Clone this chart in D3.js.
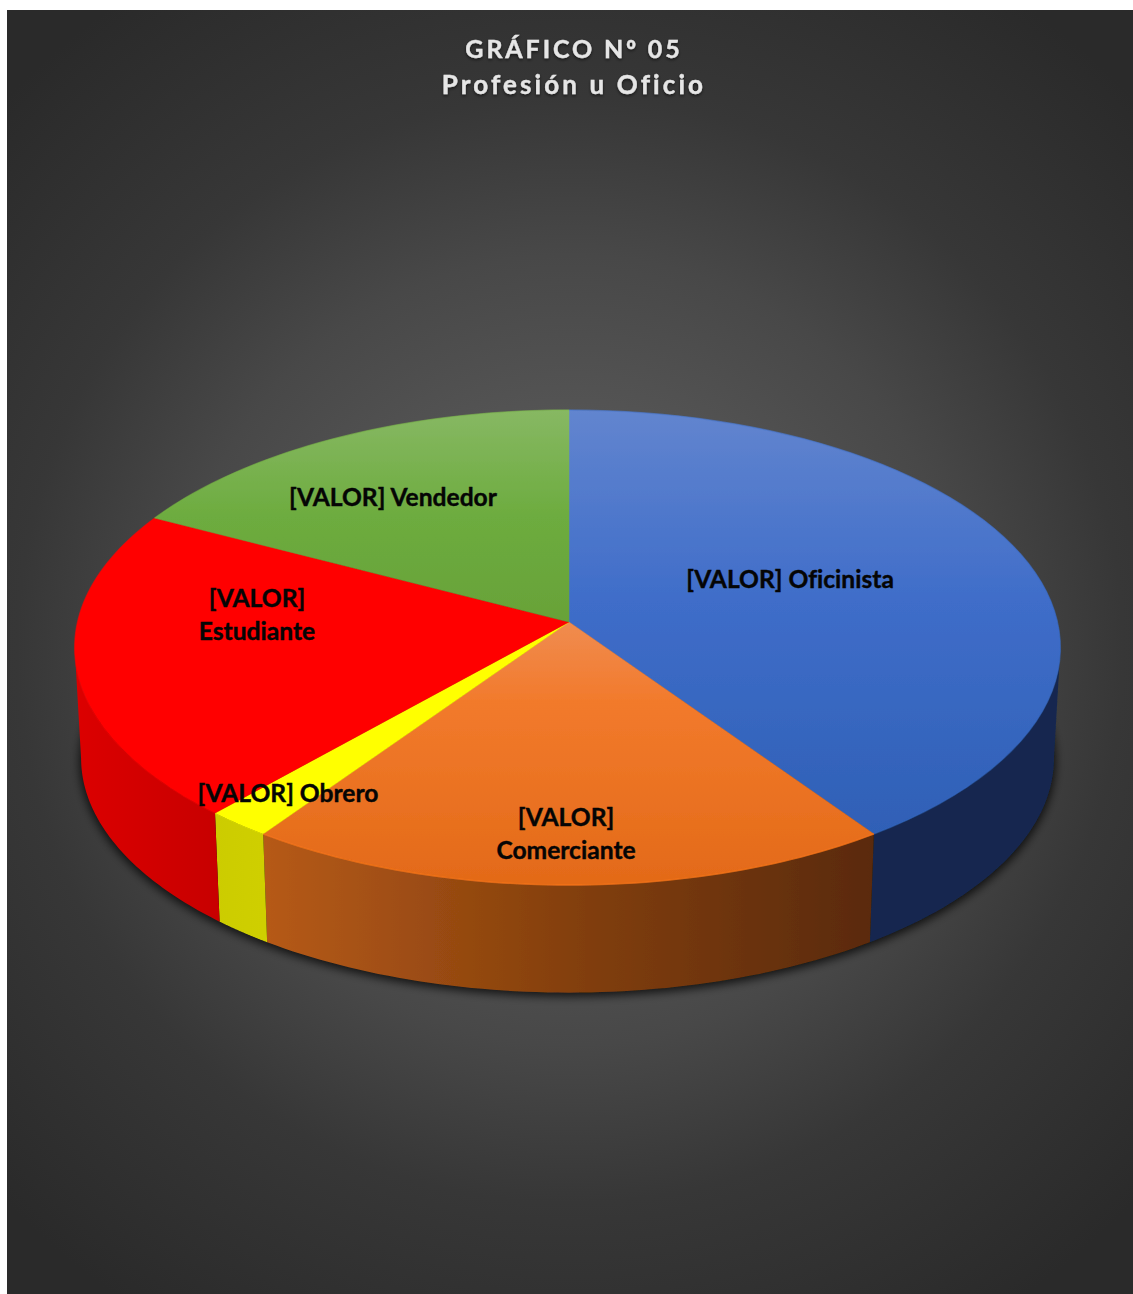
<!DOCTYPE html>
<html lang="es">
<head>
<meta charset="utf-8">
<title>Profesión u Oficio</title>
<script src="https://cdn.jsdelivr.net/npm/d3@7/dist/d3.min.js"></script>
<style>
  html, body { margin: 0; padding: 0; background: #fff; }
  svg { display: block; }
  .title { font-family: Lato, "Open Sans", sans-serif; font-weight: 700; font-size: 26px; letter-spacing: 3.1px; fill: #e6e6e6; stroke: #e6e6e6; stroke-width: 0.35px; text-anchor: middle; font-variant-ligatures: none; filter: url(#titleShadow); }
  .title.first { font-size: 25px; letter-spacing: 2.9px; }
  .label { font-family: Lato, "Open Sans", sans-serif; font-weight: 700; font-size: 24.6px; fill: #050505; stroke: #050505; stroke-width: 0.4px; text-anchor: middle; font-variant-ligatures: none; }
</style>
</head>
<body>
<script>
// Survey counts by occupation
const categories = ["Oficinista", "Comerciante", "Obrero", "Estudiante", "Vendedor"];
const counts = [21, 10, 1, 11, 9];
const titleLines = [["GRÁFICO N", "º", " 05"], ["Profesión u Oficio"]];
const labelLines = [
  ["[VALOR] Oficinista"],
  ["[VALOR]", "Comerciante"],
  ["[VALOR] Obrero"],
  ["[VALOR]", "Estudiante"],
  ["[VALOR] Vendedor"]
];

const W = 1133, H = 1294;
const frame = { left: 7, top: 10 };

// Slice appearance
const topStops = [
  [[0, "#6285cf"], [0.45, "#3f6dc9"], [1, "#2f60b6"]],
  [[0, "#f08c50"], [0.3, "#f27a2c"], [1, "#e36a18"]],
  [[0, "#ffff00"], [1, "#ffff00"]],
  [[0, "#ff0000"], [1, "#ff0000"]],
  [[0, "#87b863"], [0.5, "#6dac3f"], [1, "#68a238"]]
];
const wallStops = [
  [[0, "#142850"], [1, "#142850"]],
  [[0, "#b65a18"], [0.55, "#7f3d0c"], [1, "#5a2a07"]],
  [[0, "#cccc00"], [1, "#cfcf00"]],
  [[0, "#dc0000"], [1, "#c80000"]],
  [[0, "#4a7a2c"], [1, "#4a7a2c"]]
];

// Perspective of the tilted disc: centre, radii and foreshortening
const apex = { x: 569, y: 622 };
const sideDrift = 1.5;
const radiusX = 490, radiusY = 234.8, tilt = 0.1074;
const baseScale = 0.987, baseDrop = 111;

function project(angle, scale = 1, drop = 0) {
  const u = Math.sin(angle), v = Math.cos(angle);
  const w = 1 + tilt * v;
  return [apex.x - sideDrift * u * u + scale * radiusX * u / w, apex.y + drop - scale * radiusY * v / w];
}

const arcs = d3.pie().sort(null).startAngle(0).endAngle(2 * Math.PI)(counts);
const line = d3.line();
const sweep = (from, to) => d3.range(0, 61).map(i => from + (to - from) * i / 60);

// The wall is only seen between the two points where the rim turns back
const frontFrom = Math.acos(-tilt);
const frontTo = 2 * Math.PI - frontFrom;

const svg = d3.select("body").append("svg").attr("width", W).attr("height", H);
const defs = svg.append("defs");

const bg = defs.append("radialGradient").attr("id", "bg")
  .attr("gradientUnits", "userSpaceOnUse").attr("cx", 570).attr("cy", 650).attr("r", 790);
[[0, "#666666"], [0.35, "#515151"], [0.5, "#484848"], [0.7, "#373737"], [1, "#2a2a2a"]].forEach(([o, c]) =>
  bg.append("stop").attr("offset", o).attr("stop-color", c));

const shadow = defs.append("filter").attr("id", "discShadow")
  .attr("x", "-5%").attr("y", "-5%").attr("width", "110%").attr("height", "110%");
shadow.append("feGaussianBlur").attr("stdDeviation", 5);

const titleGlow = defs.append("filter").attr("id", "titleShadow")
  .attr("x", "-5%").attr("y", "-20%").attr("width", "110%").attr("height", "150%");
titleGlow.append("feDropShadow").attr("dx", 0).attr("dy", 1.5).attr("stdDeviation", 1.5)
  .attr("flood-color", "#000").attr("flood-opacity", 0.6);

const soft = defs.append("filter").attr("id", "soft");
soft.append("feGaussianBlur").attr("stdDeviation", 0.35);

svg.append("rect")
  .attr("x", frame.left).attr("y", frame.top)
  .attr("width", W - frame.left).attr("height", H - frame.top)
  .attr("fill", "url(#bg)");

function gradient(id, stops, x1, y1, x2, y2) {
  const g = defs.append("linearGradient").attr("id", id).attr("gradientUnits", "userSpaceOnUse")
    .attr("x1", x1).attr("y1", y1).attr("x2", x2).attr("y2", y2);
  stops.forEach(([o, c]) => g.append("stop").attr("offset", o).attr("stop-color", c));
}

const chart = svg.append("g").attr("filter", "url(#soft)");

// Soft shadow under the base
const fullCircle = d3.range(0, 181).map(i => i * 2 * Math.PI / 180);
chart.append("path")
  .attr("d", line(fullCircle.map(t => project(t, baseScale + 0.003, baseDrop + 3))) + "Z")
  .attr("fill", "#000").attr("opacity", 0.75).attr("filter", "url(#discShadow)");

// Outer walls, slice by slice
arcs.forEach((a, i) => {
  const from = Math.max(a.startAngle, frontFrom);
  const to = Math.min(a.endAngle, frontTo);
  if (to <= from) return;
  const ts = sweep(from, to);
  const topEdge = ts.map(t => project(t));
  const baseEdge = ts.map(t => project(t, baseScale, baseDrop)).reverse();
  const xs = topEdge.map(p => p[0]);
  gradient(`wall${i}`, wallStops[i], d3.min(xs), 0, d3.max(xs), 0);
  chart.append("path")
    .attr("d", line(topEdge.concat(baseEdge)) + "Z")
    .attr("fill", `url(#wall${i})`);
});

// Top face
arcs.forEach((a, i) => {
  const pts = sweep(a.startAngle, a.endAngle).map(t => project(t));
  pts.push([apex.x, apex.y]);
  const ys = pts.map(p => p[1]);
  gradient(`face${i}`, topStops[i], 0, d3.min(ys), 0, d3.max(ys));
  chart.append("path")
    .attr("d", line(pts) + "Z")
    .attr("fill", `url(#face${i})`)
    .attr("stroke", `url(#face${i})`).attr("stroke-width", 0.5);
});

// Lit bevel along the rim of the top face
const bevel = [0.3, 0.6, 0, 0.25, 0.3];
arcs.forEach((a, i) => {
  const lit = d3.color(topStops[i][topStops[i].length - 1][1]).brighter(0.35);
  chart.append("path")
    .attr("d", line(sweep(a.startAngle, a.endAngle).map(t => project(t)))).attr("fill", "none")
    .attr("stroke", lit).attr("stroke-width", 1.5).attr("opacity", bevel[i]);
});

// Category labels, placed per slice
const labelAnchors = [[790, 580], [566, 818], [288, 794], [257, 599], [393, 498]];
const lineGap = 32.5;
labelLines.forEach((lines, i) => {
  lines.forEach((txt, k) => {
    svg.append("text").attr("class", "label")
      .attr("x", labelAnchors[i][0]).attr("y", labelAnchors[i][1] + k * lineGap + 8)
      .text(txt);
  });
});

// Two-line heading; the ordinal mark comes from a face that underlines it
titleLines.forEach((parts, k) => {
  const t = svg.append("text").attr("class", k === 0 ? "title first" : "title")
    .attr("x", 574).attr("y", 58 + k * 36);
  parts.forEach(part => {
    const span = t.append("tspan").text(part);
    if (part === "º") span.style("font-family", '"Open Sans", sans-serif');
  });
});
</script>
</body>
</html>
